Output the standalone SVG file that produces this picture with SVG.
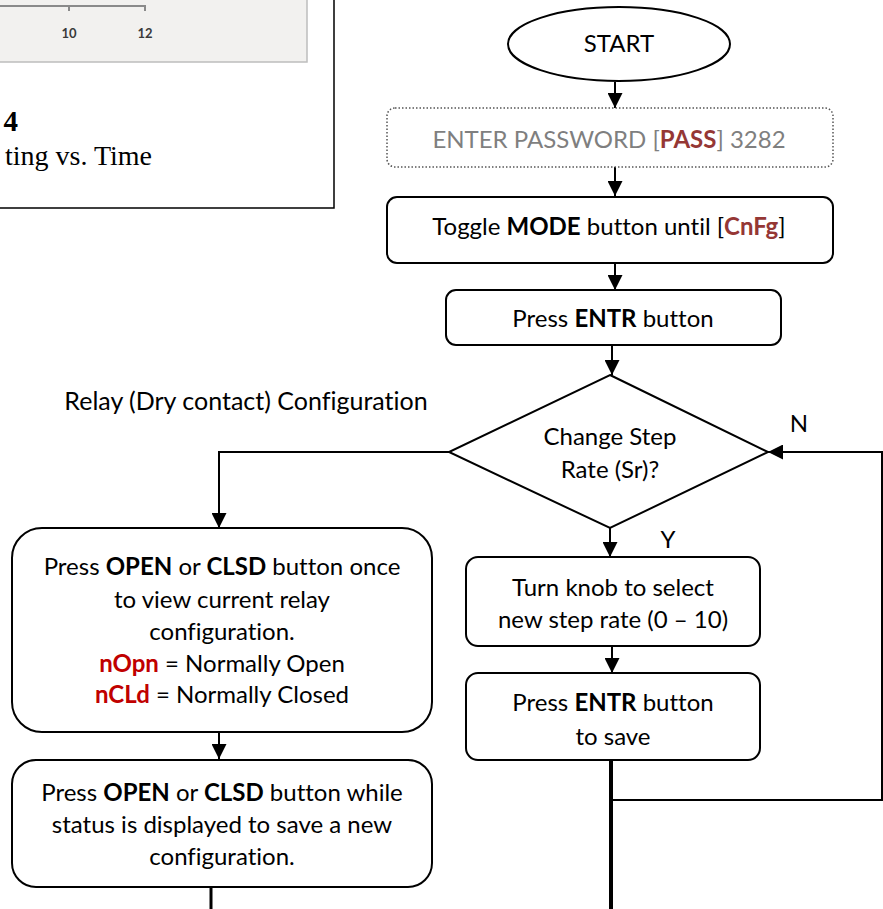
<svg xmlns="http://www.w3.org/2000/svg" width="883" height="909" viewBox="0 0 883 909">
<defs>
<marker id="ah" viewBox="0 0 15 15" refX="15" refY="7.5" markerWidth="15" markerHeight="15" markerUnits="userSpaceOnUse" orient="auto">
<path d="M0,0 L15,7.5 L0,15 z" fill="#000"/>
</marker>
<style>
.t{font-family:Lato,"Liberation Sans",sans-serif;font-size:24px;fill:#000;text-anchor:middle;font-variant-ligatures:none}
.b{font-weight:bold}
.box{fill:#fff;stroke:#000;stroke-width:2}
.c{fill:none;stroke:#000;stroke-width:2}
.dr{fill:#953735;font-weight:bold}
.rd{fill:#c00000;font-weight:bold}
</style>
</defs>
<rect width="883" height="909" fill="#fff"/>
<!-- chart fragment -->
<g id="figure">
<rect x="-2" y="-2" width="309" height="64" fill="#f2f1ef" stroke="#bdbdbd" stroke-width="1.5"/>
<path d="M0,6 H145 V11 M69,6 V11" fill="none" stroke="#8a8a8a" stroke-width="2"/>
<text x="69" y="38" style="font-family:Lato,'Liberation Sans',sans-serif;font-size:13px;font-weight:bold;fill:#3a3a3a;text-anchor:middle">10</text>
<text x="145" y="38" style="font-family:Lato,'Liberation Sans',sans-serif;font-size:13px;font-weight:bold;fill:#3a3a3a;text-anchor:middle">12</text>
<path d="M334,0 V208 H0" fill="none" stroke="#000" stroke-width="1.5"/>
<text x="18" y="131" style="font-family:'Liberation Serif',serif;font-size:29px;font-weight:bold;text-anchor:end">4</text>
<text x="152" y="165" style="font-family:'Liberation Serif',serif;font-size:28px;text-anchor:end">ting vs. Time</text>
</g>
<g id="connectors">
<line class="c" x1="615" y1="82" x2="615" y2="108" marker-end="url(#ah)"/>
<line class="c" x1="615" y1="167" x2="615" y2="196" marker-end="url(#ah)"/>
<line class="c" x1="615" y1="263" x2="615" y2="290" marker-end="url(#ah)"/>
<line class="c" x1="612" y1="345" x2="612" y2="375" marker-end="url(#ah)"/>
<path class="c" d="M449,452 H219 V528" marker-end="url(#ah)"/>
<line class="c" x1="610" y1="528" x2="610" y2="557" marker-end="url(#ah)"/>
<line class="c" x1="612" y1="646" x2="612" y2="673" marker-end="url(#ah)"/>
<line x1="611" y1="760" x2="611" y2="909" stroke="#000" stroke-width="4"/>
<path class="c" d="M611,800 H882 V452 H768" marker-end="url(#ah)"/>
<line class="c" x1="219" y1="732" x2="219" y2="759" marker-end="url(#ah)"/>
<line x1="211" y1="887" x2="211" y2="909" stroke="#000" stroke-width="3"/>
</g>
<g id="start">
<ellipse class="box" cx="619" cy="44" rx="111" ry="37"/>
<text class="t" x="619" y="52">START</text>
</g>
<g id="password">
<rect x="387" y="108" width="446" height="59" rx="8" fill="#fff" stroke="#555" stroke-width="1.5" stroke-dasharray="1.5 2"/>
<text class="t" x="609" y="148" style="fill:#7f7f7f">ENTER PASSWORD [<tspan class="dr">PASS</tspan>] 3282</text>
</g>
<g id="toggle">
<rect class="box" x="387" y="197" width="446" height="66" rx="10"/>
<text class="t" x="609" y="235">Toggle <tspan class="b">MODE</tspan> button until [<tspan class="dr">CnFg</tspan>]</text>
</g>
<g id="enter">
<rect class="box" x="446" y="290" width="335" height="55" rx="10"/>
<text class="t" x="613" y="327">Press <tspan class="b">ENTR</tspan> button</text>
</g>
<g id="decision">
<polygon class="box" points="610,375 768,452 610,528 449,452"/>
<text class="t" x="610" y="445">Change Step</text>
<text class="t" x="610" y="478">Rate (Sr)?</text>
</g>
<g id="labels">
<text class="t" x="246" y="410" style="font-size:25px">Relay (Dry contact) Configuration</text>
<text class="t" x="799" y="432">N</text>
<text class="t" x="668" y="548">Y</text>
</g>
<g id="knob">
<rect class="box" x="466" y="557" width="294" height="89" rx="12"/>
<text class="t" x="613" y="596">Turn knob to select</text>
<text class="t" x="613" y="628">new step rate (0 – 10)</text>
</g>
<g id="save">
<rect class="box" x="466" y="673" width="294" height="87" rx="12"/>
<text class="t" x="613" y="711">Press <tspan class="b">ENTR</tspan> button</text>
<text class="t" x="613" y="745">to save</text>
</g>
<g id="relay-view">
<rect class="box" x="12" y="528" width="420" height="204" rx="30"/>
<text class="t" x="222" y="575">Press <tspan class="b">OPEN</tspan> or <tspan class="b">CLSD</tspan> button once</text>
<text class="t" x="222" y="608">to view current relay</text>
<text class="t" x="222" y="640">configuration.</text>
<text class="t" x="222" y="672"><tspan class="rd">nOpn</tspan> = Normally Open</text>
<text class="t" x="222" y="703"><tspan class="rd">nCLd</tspan> = Normally Closed</text>
</g>
<g id="relay-save">
<rect class="box" x="12" y="760" width="420" height="127" rx="24"/>
<text class="t" x="222" y="801">Press <tspan class="b">OPEN</tspan> or <tspan class="b">CLSD</tspan> button while</text>
<text class="t" x="222" y="833">status is displayed to save a new</text>
<text class="t" x="222" y="865">configuration.</text>
</g>
</svg>
